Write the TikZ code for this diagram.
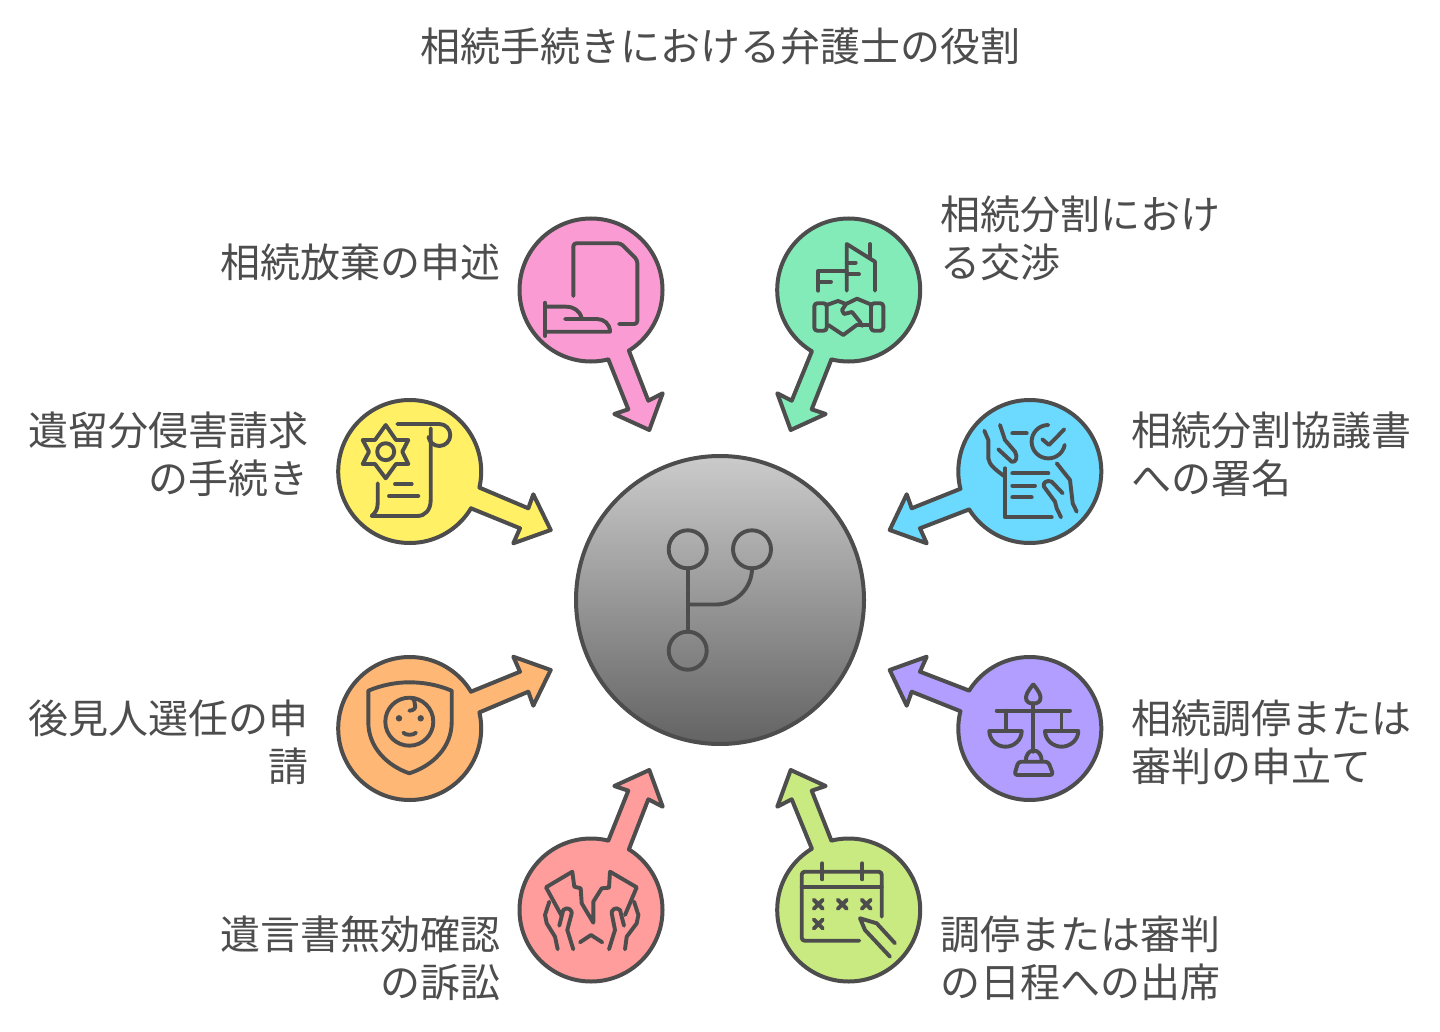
\documentclass[tikz,border=0pt]{standalone}
\usepackage{fontspec}
\setmainfont{Noto Sans CJK JP}
\definecolor{ink}{HTML}{4D4D4D}
\definecolor{hubTop}{HTML}{CBCBCB}
\definecolor{hubBottom}{HTML}{636363}
\definecolor{cPink}{HTML}{FB9BD3}
\definecolor{cGreen}{HTML}{83EBB8}
\definecolor{cYellow}{HTML}{FFF066}
\definecolor{cBlue}{HTML}{6CD9FF}
\definecolor{cOrange}{HTML}{FFB775}
\definecolor{cPurple}{HTML}{B19EFF}
\definecolor{cRed}{HTML}{FF9C9C}
\definecolor{cLime}{HTML}{C9EA80}
\tikzset{
  petal/.style={circle,draw=ink,line width=2pt,minimum size=71.5pt,inner sep=0pt,outer sep=0pt,fill=#1},
  hubdisc/.style={circle,draw=ink,line width=2pt,minimum size=144pt,inner sep=0pt,outer sep=0pt,top color=hubTop,bottom color=hubBottom},
  edge/.style={draw=ink,line width=2pt,line join=round,line cap=round},
  ico/.style={draw=ink,line width=1.95pt,line join=round,line cap=round},
  lab/.style={text=ink,font=\fontsize{20}{24}\selectfont,inner sep=0pt,outer sep=0pt},
  labL/.style={lab,anchor=west,align=left},
  labR/.style={lab,anchor=east,align=right},
}
% #1 node, #2 colour, #3 start anchor, #4 end anchor, #5 polyline through the tip
\newcommand{\petalarrow}[5]{%
  \fill[#2] (#1.#3) -- #5 -- (#1.#4) -- (#1.center) -- cycle;
  \draw[edge] (#1.#3) -- #5 -- (#1.#4);
}
\begin{document}
\begin{tikzpicture}[x=0.5pt,y=-0.5pt]
\useasboundingbox (0,0) rectangle (1440,1032);
\fill[white] (0,0) rectangle (1440,1032);

\node[lab] (title) at (720.5,46) {相続手続きにおける弁護士の役割};

\node[hubdisc] (hub) at (720,600) {};

% petals
\node[petal=cPink]   (pPink)   at (591,290)   {};
\node[petal=cGreen]  (pGreen)  at (848.7,290)   {};
\node[petal=cYellow] (pYellow) at (409.7,471.5) {};
\node[petal=cBlue]   (pBlue)   at (1029.8,471.5) {};
\node[petal=cOrange] (pOrange) at (409.7,728.5) {};
\node[petal=cPurple] (pPurple) at (1029.8,728.5) {};
\node[petal=cRed]    (pRed)    at (591,910)   {};
\node[petal=cLime]   (pLime)   at (848.7,910)   {};

\coordinate (tPink)   at (649.3,430);
\coordinate (tGreen)  at (790.7,430);
\coordinate (tYellow) at (550.7,530);
\coordinate (tBlue)   at (889.7,530);
\coordinate (tOrange) at (550.7,670);
\coordinate (tPurple) at (889.7,670);
\coordinate (tRed)    at (649.3,770);
\coordinate (tLime)   at (790.7,770);

\petalarrow{pPink}{cPink}{-76}{-58.8}{(628.3,409.3) -- (614.3,414) -- (tPink) -- (662.7,393.3) -- (648.3,400.7)}
\petalarrow{pGreen}{cGreen}{-104}{-121.2}{(811.7,409.3) -- (825.7,414) -- (tGreen) -- (777.3,393.3) -- (791.7,400.7)}
\petalarrow{pRed}{cRed}{76}{58.8}{(628.3,790.7) -- (614.3,786) -- (tRed) -- (662.7,806.7) -- (648.3,799.3)}
\petalarrow{pLime}{cLime}{104}{121.2}{(811.7,790.7) -- (825.7,786) -- (tLime) -- (777.3,806.7) -- (791.7,799.3)}
\petalarrow{pYellow}{cYellow}{-13.1}{-31.4}{(528.3,508.3) -- (533.3,494.3) -- (tYellow) -- (513.3,543.3) -- (520,528.3)}
\petalarrow{pBlue}{cBlue}{-166.9}{-148.6}{(911.7,508.3) -- (906.7,494.3) -- (tBlue) -- (926.7,543.3) -- (920,528.3)}
\petalarrow{pOrange}{cOrange}{13.1}{31.4}{(528.3,691.7) -- (533.3,705.7) -- (tOrange) -- (513.3,656.7) -- (520,671.7)}
\petalarrow{pPurple}{cPurple}{166.9}{148.6}{(911.7,691.7) -- (906.7,705.7) -- (tPurple) -- (926.7,656.7) -- (920,671.7)}

% labels
\node[labR] (lPink)   at (500,262)  {相続放棄の申述};
\node[labL] (lGreen)  at (940.5,238)  {相続分割におけ\\る交渉};
\node[labR] (lYellow) at (308,454)  {遺留分侵害請求\\の手続き};
\node[labL] (lBlue)   at (1131.7,454) {相続分割協議書\\への署名};
\node[labR] (lOrange) at (308,742)  {後見人選任の申\\請};
\node[labL] (lPurple) at (1131.7,742) {相続調停または\\審判の申立て};
\node[labR] (lRed)    at (500,958)  {遺言書無効確認\\の訴訟};
\node[labL] (lLime)   at (940.5,958)  {調停または審判\\の日程への出席};

% hub icon
\draw[ico] (687.7,549.3) circle[radius=19] (752,549.3) circle[radius=19] (687.7,650.7) circle[radius=19];
\draw[ico] (687.7,568.3) -- (687.7,631.7);
\draw[ico] (687.7,604.5) -- (716,604.5) .. controls (736,604.5) and (752,588) .. (752,568.3);

% pink icon: document and hand
\draw[ico,rounded corners=1.5pt] (573.3,296) -- (573.3,243.3) -- (620.7,243.3) -- (637.3,260) -- (637.3,324) -- (619,324);
\draw[ico] (545,302.7) -- (545,336);
\draw[ico] (545,306.7) -- (566,306.7) .. controls (574,306.7) and (580,311) .. (581.7,318.3);
\draw[ico] (545,331.7) -- (610,331.7) .. controls (610,324) and (604,319) .. (597,319) -- (565,319);

% green icon: buildings and handshake
\draw[ico] (846.7,290.7) -- (846.7,244) -- (875,261.7) -- (875,290.7);
\draw[ico] (870,244) -- (870,258.3);
\draw[ico] (846.7,262.7) -- (855.7,262.7);
\draw[ico] (846.7,274.3) -- (859,274.3);
\draw[ico] (818.3,290.7) -- (818.3,271) -- (846.7,271);
\draw[ico] (818.3,281.7) -- (831,281.7);
\draw[ico,rounded corners=1.5pt] (814.3,303.3) rectangle (826.7,330.7);
\draw[ico,rounded corners=1.5pt] (871,303.3) rectangle (883.3,330.7);
\draw[ico] (826.7,305) -- (838,301) -- (846,304);
\draw[ico] (871,304.5) -- (857,298.7) -- (846,304) -- (842,310) -- (844,314) -- (852,312) -- (860,322) -- (862,326);
\draw[ico] (828.3,325) -- (843.3,335) -- (856.7,325) -- (870,325);

% yellow icon: scroll and star
\draw[ico] (385.7,425) -- (396,440) -- (408.3,440) -- (402.3,451.7) -- (408.3,464) -- (396,464) -- (385.7,478.3) -- (375,464) -- (362.7,464) -- (369,451.7) -- (362.7,440) -- (375,440) -- cycle;
\draw[ico] (385.7,451.7) circle[radius=8.5];
\draw[ico] (397.3,424) -- (439.3,424) arc[start angle=-90,end angle=170,radius=11];
\draw[ico] (430.7,428.3) -- (430.7,500) .. controls (430.7,510) and (425,516) .. (417.3,516) -- (371.7,516) .. controls (376,512) and (377.7,509) .. (377.7,503) -- (377.7,483.3);
\draw[ico] (395,484) -- (411.7,484);
\draw[ico] (389,496) -- (418.3,496);

% blue icon: signed document with hands
\draw[ico] (1005,468.3) -- (1005,517.3) -- (1051.7,517.3);
\draw[ico] (1012.3,433.3) -- (1026.7,433.3);
\draw[ico] (1012.3,473.3) -- (1048.3,473.3);
\draw[ico] (1012.3,485.7) -- (1035,485.7);
\draw[ico] (1012.3,497.3) -- (1031.7,497.3);
\draw[ico] (1048.3,425) arc[start angle=-90,end angle=-349,radius=16.7];
\draw[ico] (1042.3,439.3) -- (1049,445) -- (1064.3,429.3);
\draw[ico] (984.3,430.7) -- (988.3,440) -- (988.3,458.3) .. controls (989,465) and (996,470) .. (1005,476.7);
\draw[ico] (1000,425) -- (1005,440) -- (1015,451.7) .. controls (1018,457) and (1016,463) .. (1011.7,461.7) -- (998.3,449.3);
\draw[ico] (1056.7,463.3) -- (1070,480) -- (1072.7,503.3) -- (1076.7,511.7);
\draw[ico] (1062.7,493.3) -- (1051.7,481.7) .. controls (1047,479.5) and (1042,483) .. (1044,486.7) -- (1055,501.7) -- (1056.7,508.3) -- (1061,517.3);

% orange icon: shield and baby
\draw[ico] (368.3,690.7) .. controls (382,685) and (396,682.3) .. (409.3,682.3) .. controls (424,682.3) and (438,685) .. (451.7,690.7) -- (451.7,722) .. controls (451.7,748) and (432,766) .. (409.3,773.3) .. controls (388,766) and (368.3,748) .. (368.3,722) -- cycle;
\draw[ico] (409.3,721.7) circle[radius=24];
\fill[ink] (399,718.3) circle[radius=3.2] (420.7,718.3) circle[radius=3.2];
\draw[ico] (403.3,732.7) .. controls (406,735.5) and (413,735.5) .. (416,732.7);
\draw[ico] (409.3,710.7) .. controls (414,710.5) and (416,708) .. (415,705) .. controls (415,702) and (414,700) .. (412.7,698.3);

% purple icon: scales
\draw[ico] (996.7,710.7) -- (1070,710.7);
\draw[ico] (1033.3,703.3) -- (1033.3,751.7);
\draw[ico] (1033.3,684.3) .. controls (1027,692) and (1026,695) .. (1026,698) .. controls (1026,702) and (1029.5,703.5) .. (1033.3,703.5) .. controls (1037,703.5) and (1040.5,702) .. (1040.5,698) .. controls (1040.5,695) and (1039.5,692) .. (1033.3,684.3);
\draw[ico] (1006,710.7) -- (1006,731);
\draw[ico] (1061.5,710.7) -- (1061.5,731);
\draw[ico] (989.3,731) -- (1021.7,731) .. controls (1021.7,740) and (1014,746.7) .. (1005.5,746.7) .. controls (997,746.7) and (989.3,740) .. (989.3,731) -- cycle;
\draw[ico] (1045,731) -- (1078.3,731) .. controls (1078.3,740) and (1070,746.7) .. (1061.7,746.7) .. controls (1053,746.7) and (1045,740) .. (1045,731) -- cycle;
\draw[ico] (1025.7,761) .. controls (1025.7,755) and (1029,750.5) .. (1033.7,750.5) .. controls (1038.5,750.5) and (1041.7,755) .. (1041.7,761);
\draw[ico,rounded corners=1.5pt] (1018.3,761.7) -- (1048.3,761.7) -- (1053.3,775) -- (1014.3,775) -- cycle;

% red icon: torn paper and hands
\draw[ico] (561.7,916) -- (546,887.3) -- (572.3,871.7) -- (574.3,886.7) -- (580.7,888.3) -- (581.7,903.3) -- (593.3,922.7) -- (593.3,901.7) -- (601.7,888.3) -- (609,887.7) -- (610,871.7) -- (636.7,887.3) -- (625,915);
\draw[ico] (549.3,901.7) -- (545,915) -- (546.7,923.3) -- (555,936.7) -- (557.7,949.3);
\draw[ico] (559.3,925.7) -- (563.3,910) .. controls (565,908) and (568,908) .. (569.3,909) .. controls (571.5,910.5) and (572,912) .. (571.7,913.3) -- (567.3,930) -- (573.3,949.3);
\draw[ico] (634.1,901.7) -- (638.4,915) -- (636.7,923.3) -- (626.7,936.7) -- (625,949.3);
\draw[ico] (624,925.7) -- (620,910) .. controls (618.3,908) and (615.3,908) .. (614,909) .. controls (611.9,910.5) and (611.4,912) .. (611.7,913.3) -- (615,930) -- (609,949.3);
\draw[ico] (580,942.3) -- (591,935) -- (602.3,942.3);

% lime icon: calendar and pen
\draw[ico,rounded corners=1.5pt] (881.7,916.7) -- (881.7,871.7) -- (801.7,871.7) -- (801.7,940.7) -- (859.3,940.7);
\draw[ico] (801.7,887.3) -- (881.7,887.3);
\draw[ico] (822.3,863.3) -- (822.3,879.3);
\draw[ico] (862.3,863.3) -- (862.3,879.3);
\draw[ico] (813.8,899.8) -- (822.8,908.8) (822.8,899.8) -- (813.8,908.8);
\draw[ico] (837.8,899.8) -- (846.8,908.8) (846.8,899.8) -- (837.8,908.8);
\draw[ico] (861.8,899.8) -- (870.8,908.8) (870.8,899.8) -- (861.8,908.8);
\draw[ico] (813.8,919.5) -- (822.8,928.5) (822.8,919.5) -- (813.8,928.5);
\draw[ico] (895,943.3) -- (876.7,923.3) -- (860,918.3) -- (865,930) -- (890,956.7);
\end{tikzpicture}
\end{document}
